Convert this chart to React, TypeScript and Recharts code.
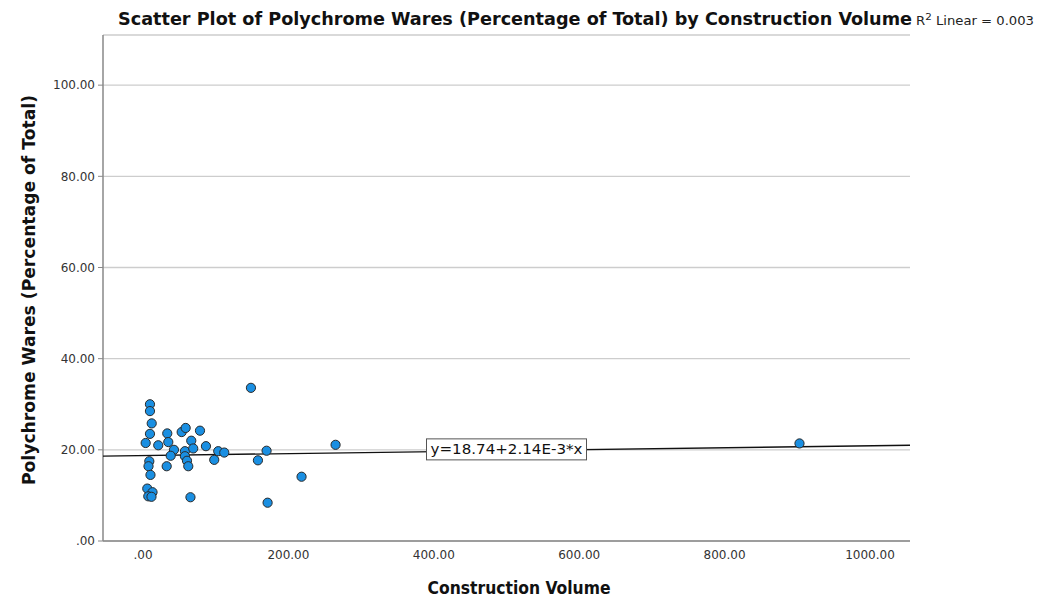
import React from "react";
import { ScatterChart, Scatter, XAxis, YAxis, CartesianGrid } from "recharts";

// construction volume (x) vs polychrome wares % (y)
const volume = [
  9.6, 9.6, 12.0, 9.6, 3.7, 21.0, 33.4, 34.8, 53.2, 58.7, 78.4, 66.4, 42.6, 38.1,
  57.7, 69.1, 57.7, 60.5, 62.3, 86.6, 103.5, 111.8, 98.0, 8.7, 7.6, 10.3, 32.6,
  5.9, 13.1, 7.3, 11.7, 65.3, 148.5, 170.0, 158.1, 218.1, 171.4, 264.9, 903.0,
];
const polychrome = [
  30.0, 28.5, 25.8, 23.5, 21.5, 21.0, 23.6, 21.7, 23.9, 24.8, 24.2, 22.0, 20.0,
  18.7, 19.7, 20.3, 18.6, 17.6, 16.4, 20.8, 19.7, 19.4, 17.8, 17.5, 16.4, 14.5,
  16.4, 11.5, 10.7, 9.8, 9.7, 9.6, 33.6, 19.8, 17.7, 14.1, 8.4, 21.1, 21.4,
];
const xTicks = [0, 200, 400, 600, 800, 1000];
const yTicks = [0, 20, 40, 60, 80, 100];
const xDomain = [-55, 1055];
const yDomain = [0, 111];

// linear fit shown in the chart
const intercept = 18.74;
const slope = 2.14e-3;
const equationText = "y=18.74+2.14E-3*x";
const equationAt = [{ x: 500, y: 20.1 }];

const points = volume.map((v, i) => ({ x: v, y: polychrome[i] }));
const fitLine = xDomain.map((x) => ({ x, y: intercept + slope * x }));

const fmt = (v: number) => (v === 0 ? ".00" : v.toFixed(2));

const tickFont = { fontFamily: "DejaVu Sans", fontSize: 12, fill: "#333" };

const Dot = (props: any) => (
  <circle cx={props.cx} cy={props.cy} r={4.6} fill="#1a8fe2" stroke="#2a2a2a" strokeWidth={1} />
);

const EquationBox = (props: any) => {
  const { cx, cy } = props;
  return (
    <g>
      <rect x={cx - 80} y={cy - 10.5} width={160} height={21} fill="#fff" stroke="#555" strokeWidth={1} />
      <text
        x={cx}
        y={cy + 5}
        textAnchor="middle"
        fontFamily="DejaVu Sans"
        fontSize={13.5}
        fill="#111"
        textLength={152}
        lengthAdjust="spacingAndGlyphs"
      >
        {equationText}
      </text>
    </g>
  );
};

export default function App() {
  return (
    <div style={{ position: "absolute", left: 0, top: 0, width: 1040, height: 599, background: "#fff" }}>
      <ScatterChart width={1040} height={599} margin={{ top: 35, right: 130, bottom: 28, left: 43 }}>
        <CartesianGrid vertical={false} stroke="#cdcdcd" strokeWidth={1.3} />
        <XAxis
          type="number"
          dataKey="x"
          domain={xDomain}
          ticks={xTicks}
          tickFormatter={fmt}
          allowDataOverflow
          height={30}
          tickLine={false}
          tickSize={5}
          tickMargin={4}
          axisLine={{ stroke: "#888", strokeWidth: 1.5 }}
          tick={tickFont}
        />
        <YAxis
          type="number"
          dataKey="y"
          domain={yDomain}
          ticks={yTicks}
          tickFormatter={fmt}
          allowDataOverflow
          width={60}
          tickSize={5}
          tickMargin={3}
          tickLine={{ stroke: "#888" }}
          axisLine={{ stroke: "#888", strokeWidth: 1.5 }}
          tick={tickFont}
        />
        <Scatter
          data={fitLine}
          line={{ stroke: "#111", strokeWidth: 1.4 }}
          shape={() => null}
          isAnimationActive={false}
        />
        <Scatter data={points} shape={<Dot />} isAnimationActive={false} />
        <Scatter data={equationAt} shape={<EquationBox />} isAnimationActive={false} />
      </ScatterChart>
      <svg
        width={1040}
        height={599}
        style={{ position: "absolute", left: 0, top: 0, pointerEvents: "none" }}
      >
        <text
          x={515}
          y={25}
          textAnchor="middle"
          fontFamily="DejaVu Sans Condensed, DejaVu Sans"
          fontWeight="bold"
          fontSize={17.5}
          fill="#111"
          textLength={794}
          lengthAdjust="spacingAndGlyphs"
        >
          Scatter Plot of Polychrome Wares (Percentage of Total) by Construction Volume
        </text>
        <text
          x={519}
          y={594}
          textAnchor="middle"
          fontFamily="DejaVu Sans Condensed, DejaVu Sans"
          fontWeight="bold"
          fontSize={17}
          fill="#111"
          textLength={183}
          lengthAdjust="spacingAndGlyphs"
        >
          Construction Volume
        </text>
        <text
          x={35}
          y={290}
          textAnchor="middle"
          transform="rotate(-90 35 290)"
          fontFamily="DejaVu Sans"
          fontWeight="bold"
          fontSize={17}
          fill="#111"
          textLength={390}
          lengthAdjust="spacingAndGlyphs"
        >
          Polychrome Wares (Percentage of Total)
        </text>
        <text x={916} y={25} fontFamily="DejaVu Sans" fontSize={11.5} fill="#222" textLength={118} lengthAdjust="spacingAndGlyphs">
          R<tspan dy={-5} fontSize={9}>2</tspan>
          <tspan dy={5}> Linear = 0.003</tspan>
        </text>
      </svg>
    </div>
  );
}
